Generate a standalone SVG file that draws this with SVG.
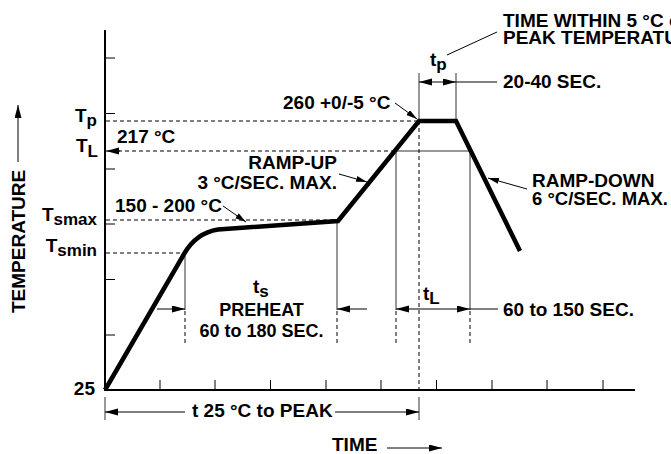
<svg xmlns="http://www.w3.org/2000/svg" width="671" height="454" viewBox="0 0 671 454">
<style>
text{font-family:"Liberation Sans",Arial,Helvetica,sans-serif;font-weight:bold;font-size:19px;fill:#000}
.sm{font-size:18px}
.sub{font-size:17px}
.axis{stroke:#000;stroke-width:2;fill:none}
.tick{stroke:#000;stroke-width:1;fill:none}
.curve{stroke:#000;stroke-width:4.5;fill:none;stroke-linejoin:miter}
.dash{stroke:#000;stroke-width:1;stroke-dasharray:4 3;fill:none}
.thin{stroke:#333;stroke-width:1;fill:none}
.arr{stroke:#000;stroke-width:1;fill:none}
</style>
<defs>
<marker id="ah" markerUnits="userSpaceOnUse" markerWidth="13" markerHeight="8" refX="13" refY="3.5" orient="auto-start-reverse">
<path d="M0,0 L13,3.5 L0,7 z" fill="#000"/>
</marker>
<marker id="sh" markerUnits="userSpaceOnUse" markerWidth="11" markerHeight="7" refX="11" refY="3" orient="auto">
<path d="M0,0 L11,3 L0,6 z" fill="#000"/>
</marker>
</defs>
<rect width="671" height="454" fill="#fff"/>

<g id="axes">
<line class="axis" x1="105" y1="30" x2="105" y2="391"/>
<line class="axis" x1="104" y1="390" x2="635" y2="390"/>
<path class="tick" d="M105,58H115M105,113.5H115M105,169H115M105,224H115M105,279.5H115M105,335H115"/>
<path class="tick" d="M160,380V390M215,380V390M270.5,380V390M326,380V390M381,380V390M436.5,380V390M492,380V390M547,380V390M603,380V390"/>
</g>

<g id="guides">
<line class="dash" x1="106" y1="121" x2="419" y2="121"/>
<line class="dash" x1="118" y1="151" x2="396" y2="151"/>
<line class="thin" x1="396" y1="151" x2="470" y2="151"/>
<line class="dash" x1="106" y1="220" x2="337" y2="220"/>
<line class="dash" x1="106" y1="253" x2="185" y2="253"/>
<line class="dash" x1="419" y1="121" x2="419" y2="389"/>
<line class="thin" x1="419" y1="73" x2="419" y2="121"/>
<line class="thin" x1="456" y1="73" x2="456" y2="121"/>
<line class="thin" x1="185" y1="253" x2="185" y2="310"/>
<line class="dash" x1="185" y1="311" x2="185" y2="346"/>
<line class="thin" x1="337" y1="222" x2="337" y2="310"/>
<line class="dash" x1="337" y1="311" x2="337" y2="346"/>
<line class="thin" x1="396" y1="151" x2="396" y2="310"/>
<line class="dash" x1="396" y1="311" x2="396" y2="346"/>
<line class="thin" x1="470" y1="151" x2="470" y2="310"/>
<line class="dash" x1="470" y1="311" x2="470" y2="346"/>
<line class="thin" x1="105" y1="397" x2="105" y2="420"/>
<line class="thin" x1="419" y1="397" x2="419" y2="420"/>
</g>

<g id="profile">
<path class="curve" d="M105,390 L184,254 Q196,233 218,229.5 L338,221 L419,121 L456,121 L520,251"/>
</g>

<g id="connectors">
<line class="arr" x1="18" y1="162" x2="18" y2="105" marker-end="url(#ah)"/>
<line class="arr" x1="387" y1="448" x2="442" y2="448" marker-end="url(#ah)"/>
<line class="arr" x1="120" y1="151" x2="106" y2="151" marker-end="url(#ah)"/>
<line class="arr" x1="419" y1="82" x2="456" y2="82" marker-start="url(#ah)" marker-end="url(#ah)"/>
<line class="arr" x1="456" y1="82" x2="497" y2="82"/>
<line class="arr" x1="396" y1="309" x2="470" y2="309" marker-start="url(#ah)" marker-end="url(#ah)"/>
<line class="arr" x1="470" y1="309" x2="498" y2="309"/>
<line class="arr" x1="157" y1="309" x2="185" y2="309" marker-end="url(#ah)"/>
<line class="arr" x1="367" y1="309" x2="337" y2="309" marker-end="url(#ah)"/>
<line class="arr" x1="185" y1="412" x2="105" y2="412" marker-end="url(#ah)"/>
<line class="arr" x1="335" y1="412" x2="419" y2="412" marker-end="url(#ah)"/>
<line class="arr" x1="447" y1="55" x2="497" y2="32"/>
<line class="arr" x1="395" y1="103" x2="417" y2="119" marker-end="url(#sh)"/>
<line class="arr" x1="223" y1="206" x2="246" y2="222" marker-end="url(#sh)"/>
<line class="arr" x1="339" y1="174" x2="367" y2="182" marker-end="url(#sh)"/>
<line class="arr" x1="527" y1="189" x2="488" y2="178" marker-end="url(#sh)"/>
</g>

<g id="labels">
<text transform="translate(25,313) rotate(-90)">TEMPERATURE</text>
<text x="332" y="451">TIME</text>
<text x="503" y="27">TIME WITHIN 5 °C of ACTUAL</text>
<text x="503" y="43.5">PEAK TEMPERATURE</text>
<text x="430" y="66">t<tspan class="sub" dy="4">p</tspan></text>
<text x="503" y="88">20-40 SEC.</text>
<text x="283" y="109">260 +0/-5 °C</text>
<text x="117" y="143">217 °C</text>
<text x="97" y="122" text-anchor="end">T<tspan class="sub" dy="4">p</tspan></text>
<text x="76" y="152">T<tspan class="sub" dy="5">L</tspan></text>
<text x="337" y="169" text-anchor="end">RAMP-UP</text>
<text x="337" y="189" text-anchor="end">3 °C/SEC. MAX.</text>
<text x="532" y="187">RAMP-DOWN</text>
<text x="532" y="205" style="font-size:18.5px">6 °C/SEC. MAX.</text>
<text x="115" y="212">150 - 200 °C</text>
<text x="97" y="221" text-anchor="end">T<tspan class="sub" dy="4">smax</tspan></text>
<text x="97" y="252" text-anchor="end">T<tspan class="sub" dy="4">smin</tspan></text>
<text x="253" y="293">t<tspan class="sub" dy="4">s</tspan></text>
<text class="sm" x="261.5" y="316" text-anchor="middle">PREHEAT</text>
<text class="sm" x="261.5" y="337" text-anchor="middle">60 to 180 SEC.</text>
<text x="423" y="300">t<tspan class="sub" dy="4">L</tspan></text>
<text x="503" y="316">60 to 150 SEC.</text>
<text x="95" y="395" text-anchor="end">25</text>
<text x="192" y="417">t 25 °C to PEAK</text>
</g>
</svg>
